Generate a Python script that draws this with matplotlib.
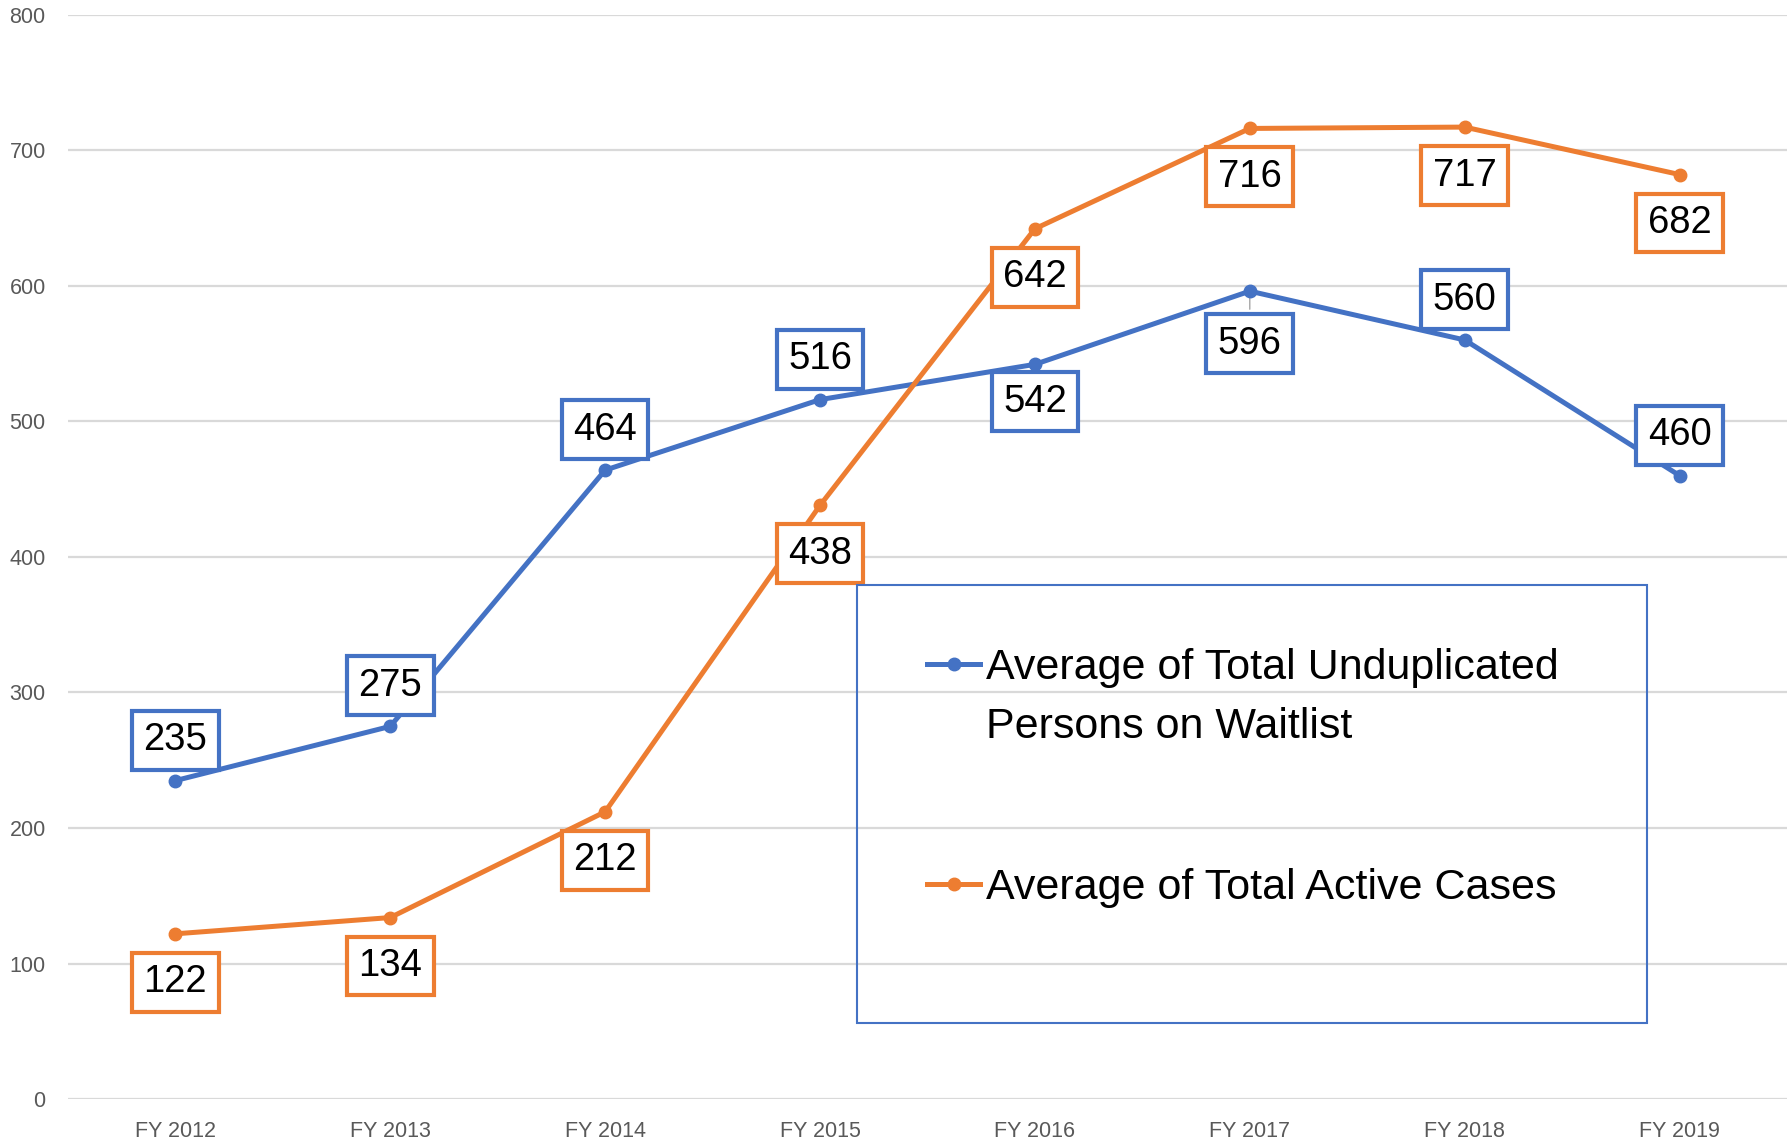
import matplotlib.pyplot as plt
from matplotlib.lines import Line2D
from matplotlib.patches import Rectangle

plt.rcParams['font.family'] = ['Liberation Sans', 'DejaVu Sans']

# data
years = ['FY 2012', 'FY 2013', 'FY 2014', 'FY 2015', 'FY 2016', 'FY 2017', 'FY 2018', 'FY 2019']
waitlist = [235, 275, 464, 516, 542, 596, 560, 460]
active = [122, 134, 212, 438, 642, 716, 717, 682]
waitlist_name = 'Average of Total Unduplicated\nPersons on Waitlist'
active_name = 'Average of Total Active Cases'

# label placement (points, + is above the marker)
waitlist_off = [32, 32, 32, 32, -24, -35, 32, 32]
active_off = [-32, -32, -32, -32, -32, -32, -32, -32]

blue = '#4472C4'
orange = '#ED7D31'
grey = '#595959'

fig = plt.figure(figsize=(17.87, 11.46), dpi=100)
ax = fig.add_axes([0.038, 0.0408, 0.962, 0.9465])

x = list(range(len(years)))
ax.plot(x, waitlist, color=blue, lw=3.6, marker='o', ms=9, zorder=3)
ax.plot(x, active, color=orange, lw=3.6, marker='o', ms=9, zorder=3)

# thin leader line on the FY 2017 waitlist label
ax.annotate('', (5, waitlist[5]), xytext=(0, -15), textcoords='offset points',
            arrowprops=dict(arrowstyle='-', color='#A6A6A6', lw=1), zorder=2)

for vals, offs, col in [(waitlist, waitlist_off, blue), (active, active_off, orange)]:
    for xi, v, off in zip(x, vals, offs):
        ax.annotate(str(v), (xi, v), xytext=(0, off), textcoords='offset points',
                    ha='center', va='center_baseline', fontsize=27.5, color='black', zorder=5,
                    bbox=dict(boxstyle='square,pad=0.3', fc='white', ec=col, lw=3))

ax.set_xlim(-0.5, 7.5)
ax.set_ylim(0, 800)
ax.set_yticks(range(0, 801, 100))
ax.set_xticks(x)
ax.set_xticklabels(years)
ax.tick_params(axis='both', length=0, labelsize=15.5, labelcolor=grey)
ax.tick_params(axis='y', pad=16)
ax.tick_params(axis='x', pad=16)
ax.grid(axis='y', color='#D9D9D9', lw=1.6)
ax.set_axisbelow(True)
for s in ax.spines.values():
    s.set_visible(False)

# legend box drawn by hand
fig.patches.append(Rectangle((857 / 1787, 1 - 1023 / 1146), 790 / 1787, 438 / 1146,
                             transform=fig.transFigure, fill=False, ec=blue, lw=1.5, zorder=6))
for yc, col, name in [(664, blue, waitlist_name), (884, orange, active_name)]:
    yf = 1 - yc / 1146
    fig.lines.append(Line2D([927 / 1787, 980 / 1787], [yf, yf], transform=fig.transFigure,
                            color=col, lw=3.6))
    fig.lines.append(Line2D([953.5 / 1787], [yf], transform=fig.transFigure,
                            color=col, marker='o', ms=9))
    for i, ln in enumerate(name.split('\n')):
        fig.text(986 / 1787, yf - i * 58 / 1146, ln, fontsize=31, va='center_baseline',
                 ha='left', color='black')

fig.savefig('out.png', dpi=100)
